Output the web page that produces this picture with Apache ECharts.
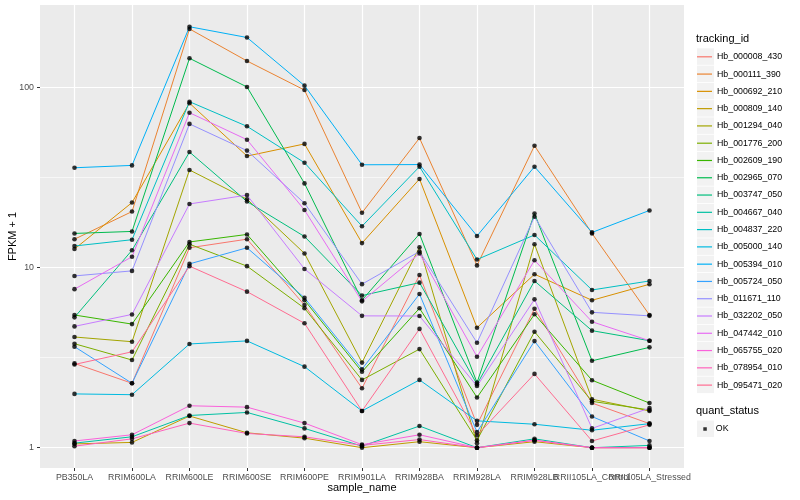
<!DOCTYPE html>
<html><head><meta charset="utf-8">
<script src="https://cdn.jsdelivr.net/npm/echarts@6/dist/echarts.min.js"></script>
<style>html,body{margin:0;padding:0;background:#fff}#c{width:800px;height:500px}</style>
</head><body><div id="c"></div>
<script>
const categories = ['PB350LA','RRIM600LA','RRIM600LE','RRIM600SE','RRIM600PE','RRIM901LA','RRIM928BA','RRIM928LA','RRIM928LB','RRII105LA_Control','RRII105LA_Stressed'];
const trackingIds = ['Hb_000008_430','Hb_000111_390','Hb_000692_210','Hb_000809_140','Hb_001294_040','Hb_001776_200','Hb_002609_190','Hb_002965_070','Hb_003747_050','Hb_004667_040','Hb_004837_220','Hb_005000_140','Hb_005394_010','Hb_005724_050','Hb_011671_110','Hb_032202_050','Hb_047442_010','Hb_065755_020','Hb_078954_010','Hb_095471_020'];
const palette = ['#F8766D','#EA8331','#D89000','#C09B00','#A3A500','#7CAE00','#39B600','#00BB4E','#00BF7D','#00C1A3','#00BFC4','#00BAE0','#00B0F6','#35A2FF','#9590FF','#C77CFF','#E76BF3','#FA62DB','#FF62BC','#FF6C91'];

const hb_000008_430 = [2.94, 2.28, 12.9, 14.4, 6.2, 2.14, 9.1, 1.34, 5.92, 1.77, 1.36];
const hb_000111_390 = [14.4, 20.5, 212, 140.7, 97, 20.2, 52.5, 10.3, 47.6, 15.5, 5.46];
const hb_000692_210 = [12.7, 23.0, 82, 41.7, 48.7, 13.7, 31.1, 4.64, 9.2, 6.59, 8.09];
const hb_000809_140 = [1.05, 1.07, 1.5, 1.21, 1.13, 1.0, 1.08, 1.0, 1.08, 1.0, 1.0];
const hb_001294_040 = [4.12, 3.88, 34.9, 24.0, 12.0, 2.97, 13.0, 1.06, 13.5, 1.86, 1.6];
const hb_001776_200 = [3.78, 3.07, 13.5, 10.2, 5.95, 2.38, 3.53, 1.1, 4.41, 1.81, 1.62];
const hb_002609_190 = [5.46, 4.86, 13.9, 15.3, 6.6, 2.64, 5.95, 1.9, 5.51, 2.37, 1.77];
const hb_002965_070 = [15.5, 15.9, 145.6, 100.9, 29.4, 6.6, 15.4, 2.3, 20.0, 3.04, 3.61];
const hb_003747_050 = [5.3, 12.5, 43.9, 23.3, 14.9, 7.0, 8.26, 2.25, 8.44, 4.47, 3.93];
const hb_004667_040 = [1.06, 1.15, 1.51, 1.57, 1.28, 1.02, 1.32, 1.0, 1.12, 1.0, 1.03];
const hb_004837_220 = [13.2, 14.3, 83.6, 61, 38.3, 17.0, 36.4, 11.1, 15.2, 7.52, 8.44];
const hb_005000_140 = [1.99, 1.97, 3.77, 3.92, 2.82, 1.6, 2.38, 1.41, 1.35, 1.25, 1.36];
const hb_005394_010 = [35.9, 37, 218, 190, 102.6, 37.3, 37.4, 15.0, 36.4, 15.7, 20.8];
const hb_005724_050 = [3.64, 2.28, 10.5, 12.9, 6.8, 2.73, 7.14, 1.22, 3.91, 1.49, 1.09];
const hb_011671_110 = [9.0, 9.6, 62.9, 44.7, 22.8, 8.1, 12.3, 3.83, 19.2, 5.65, 5.4];
const hb_032202_050 = [4.72, 5.5, 22.6, 25.3, 9.84, 5.4, 5.39, 2.2, 6.67, 1.28, 1.66];
const hb_047442_010 = [7.6, 11.5, 72.6, 51.4, 20.9, 6.5, 12.0, 3.2, 11.0, 5.01, 3.93];
const hb_065755_020 = [1.09, 1.18, 1.71, 1.68, 1.37, 1.04, 1.18, 1.0, 1.1, 1.0, 1.0];
const hb_078954_010 = [1.02, 1.12, 1.37, 1.2, 1.15, 1.03, 1.11, 1.0, 1.1, 1.0, 1.0];
const hb_095471_020 = [2.9, 3.41, 10.2, 7.36, 4.91, 1.6, 4.57, 1.17, 2.57, 1.09, 1.34];

const yTicks = [1, 10, 100];
const yMinorTicks = [3.1623, 31.623];
const quantStatus = ['OK'];

const seriesValues = [hb_000008_430, hb_000111_390, hb_000692_210, hb_000809_140, hb_001294_040, hb_001776_200, hb_002609_190, hb_002965_070, hb_003747_050, hb_004667_040, hb_004837_220, hb_005000_140, hb_005394_010, hb_005724_050, hb_011671_110, hb_032202_050, hb_047442_010, hb_065755_020, hb_078954_010, hb_095471_020];

const FONT = '"Liberation Sans", Arial, Helvetica, sans-serif';
const catIdx = categories.map((c, i) => i);
// labels split over two overlaid axes so that touching labels are all drawn
const catIdxA = catIdx.filter(i => i % 2 === 0);
const catIdxB = catIdx.filter(i => i % 2 === 1);

const series = seriesValues.map((vals, k) => ({
  name: trackingIds[k], type: 'line', color: palette[k],
  showSymbol: false, symbol: 'none', silent: true, animation: false,
  lineStyle: { width: 1, color: palette[k] },
  data: vals.map((v, i) => [i, v]), z: 2
}));
const pts = [];
seriesValues.forEach(vals => vals.forEach((v, i) => pts.push([i, v])));
series.push({ name: quantStatus[0], type: 'scatter', color: '#000', symbol: 'circle', symbolSize: 4.6,
  itemStyle: { color: '#000' }, data: pts, z: 3, silent: true, animation: false });

const graphic = [];
graphic.push({ type: 'text', left: 696, top: 33, style: { text: 'tracking_id', font: '11px ' + FONT, fill: '#000' } });
for (let i = 0; i < trackingIds.length; i++) {
  graphic.push({ type: 'rect', shape: { x: 697, y: 48.3 + i * 17.28, width: 17, height: 16.5 }, style: { fill: '#F2F2F2' }, z: 0, silent: true });
}
graphic.push({ type: 'text', left: 696, top: 405, style: { text: 'quant_status', font: '11px ' + FONT, fill: '#000' } });
graphic.push({ type: 'rect', shape: { x: 697, y: 420.5, width: 17, height: 16.5 }, style: { fill: '#F2F2F2' }, z: 0, silent: true });

const xLabel = ids => ({ customValues: ids, formatter: v => categories[Math.round(v)], fontSize: 8.8, color: '#4D4D4D', margin: 5, hideOverlap: false, showMinLabel: true, showMaxLabel: true, fontFamily: FONT });

const option = {
  animation: false,
  textStyle: { fontFamily: FONT },
  grid: { left: 40, right: 116, top: 5, bottom: 32, show: true, backgroundColor: '#EBEBEB', borderWidth: 0, containLabel: false, outerBoundsMode: 'none' },
  xAxis: [{
    type: 'value', min: -0.6, max: 10.6, position: 'bottom',
    name: 'sample_name', nameLocation: 'middle', nameGap: 14, nameMoveOverlap: false,
    nameTextStyle: { fontSize: 11, color: '#000', fontFamily: FONT },
    axisLine: { show: false, onZero: false },
    axisTick: { show: true, customValues: catIdx, length: 3, lineStyle: { color: '#333', width: 1 } },
    axisLabel: xLabel(catIdxA),
    splitLine: { show: true, lineStyle: { color: '#FFFFFF', width: 1.2 } }
  }, {
    type: 'value', min: -0.6, max: 10.6, position: 'bottom', offset: 0,
    axisLine: { show: false, onZero: false },
    axisTick: { show: false, customValues: catIdxB },
    axisLabel: xLabel(catIdxB),
    splitLine: { show: false }
  }],
  yAxis: [{
    type: 'log', logBase: 10, min: 0.7714, max: 287.9, position: 'left',
    name: 'FPKM + 1', nameLocation: 'middle', nameGap: 22, nameRotate: 90, nameMoveOverlap: false,
    nameTextStyle: { fontSize: 11, color: '#000', fontFamily: FONT },
    axisLine: { show: false, onZero: false },
    axisTick: { show: true, customValues: yTicks, length: 3, lineStyle: { color: '#333', width: 1 } },
    axisLabel: { customValues: yTicks, formatter: v => String(Math.round(v)), fontSize: 8.8, color: '#4D4D4D', margin: 6, showMinLabel: true, showMaxLabel: true, fontFamily: FONT },
    splitLine: { show: true, lineStyle: { color: '#FFFFFF', width: 1.2 } },
    minorSplitLine: { show: false }
  }, {
    type: 'log', logBase: 10, min: 0.7714, max: 287.9, position: 'left',
    axisLine: { show: false, onZero: false },
    axisTick: { show: false, customValues: yMinorTicks },
    axisLabel: { show: false, customValues: yMinorTicks },
    splitLine: { show: true, lineStyle: { color: '#FFFFFF', width: 0.6 } }
  }],
  legend: [{
    data: trackingIds, orient: 'vertical', left: 697, top: 48.3, padding: 0,
    itemWidth: 15, itemHeight: 1.2, itemGap: 0.28, icon: 'rect', selectedMode: false,
    textStyle: { fontSize: 8.8, color: '#000', lineHeight: 17, fontFamily: FONT }, z: 5
  }, {
    data: quantStatus, orient: 'vertical', left: 703.3, top: 420.5, padding: 0,
    itemWidth: 3.5, itemHeight: 3.5, icon: 'rect', selectedMode: false,
    itemStyle: { color: '#000' },
    textStyle: { fontSize: 8.8, color: '#000', lineHeight: 17, padding: [0, 0, 0, 4], fontFamily: FONT }, z: 5
  }],
  graphic: graphic,
  series: series
};
const chart = echarts.init(document.getElementById('c'), null, { renderer: 'canvas' });
chart.setOption(option);
</script></body></html>
